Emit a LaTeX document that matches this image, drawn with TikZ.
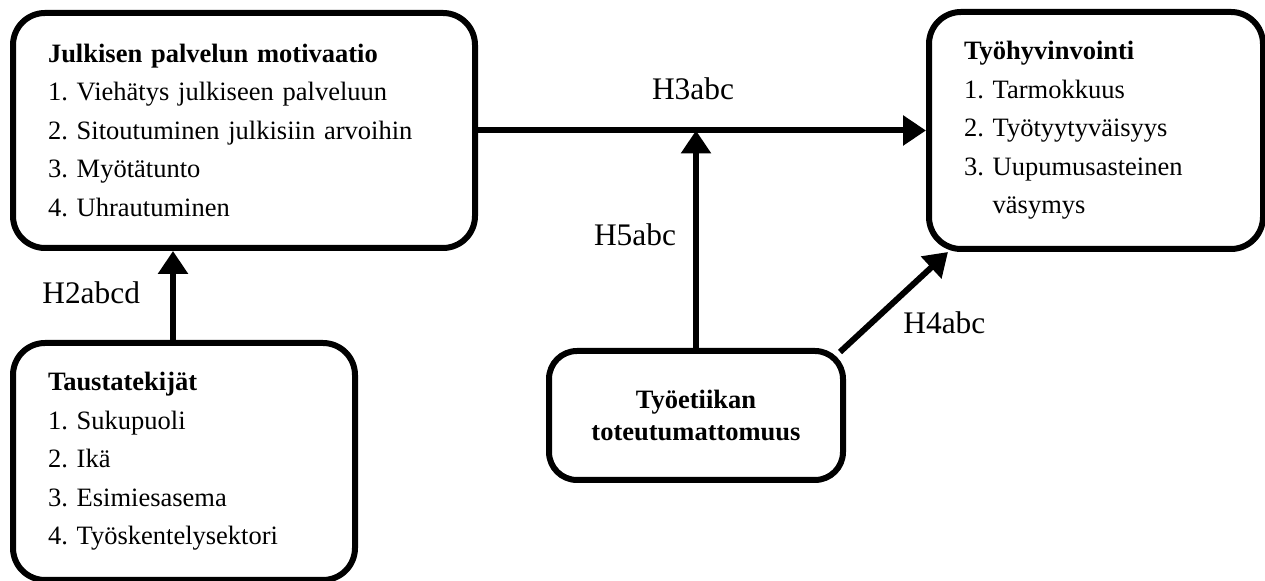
\documentclass[tikz,border=0pt]{standalone}
\usepackage{fontspec}
\setmainfont{Liberation Serif}
\frenchspacing
\usetikzlibrary{arrows.meta, positioning}
\tikzset{
  every picture/.style={line width=3pt},
  box/.style={draw, rounded corners=16pt, align=left, inner xsep=17.5pt, inner ysep=6pt, font=\fontsize{13.25pt}{19.25pt}\selectfont},
  arrow/.style={-{Triangle[length=11.5pt, width=14.5pt]}},
  hyp/.style={inner sep=0pt, font=\fontsize{15.7pt}{18pt}\selectfont},
}

\begin{document}
\begin{tikzpicture}[x=0.5pt, y=-0.5pt]
  \useasboundingbox (0,0) rectangle (1265,581);
  \node[box, text width=196pt, minimum width=231pt, minimum height=117.5pt, anchor=north west] (jpm) at (10,10) {\textbf{Julkisen palvelun motivaatio}\\ 1. Viehätys julkiseen palveluun\\ 2. Sitoutuminen julkisiin arvoihin\\ 3. Myötätunto\\ 4. Uhrautuminen};
  \node[box, text width=132pt, minimum width=167pt, minimum height=118.5pt, right=224pt of jpm] (thv) {\textbf{Työhyvinvointi}\\ 1. Tarmokkuus\\ 2. Työtyytyväisyys\\ 3. Uupumusasteinen\\\phantom{3. }väsymys};
  \node[box, text width=136pt, minimum width=171pt, minimum height=118.5pt, below=44.5pt of jpm.south west, anchor=north west] (tausta) {\textbf{Taustatekijät}\\ 1. Sukupuoli\\ 2. Ikä\\ 3. Esimiesasema\\ 4. Työskentelysektori};
  \node[box, rounded corners=14pt, align=center, font=\fontsize{13.25pt}{16pt}\selectfont\bfseries, minimum width=147pt, minimum height=64.5pt, right=94pt of tausta.north east, anchor=north west, yshift=-4pt] (etiikka) {Työetiikan\\toteutumattomuus};
  \draw[arrow] (jpm) -- node[hyp, pos=0.48, above=14pt] {H3abc} (thv);
  \draw[arrow] (etiikka) -- node[hyp, pos=0.52, left=8.5pt] {H5abc} (etiikka |- jpm.east);
  \draw[arrow] ([xshift=-5.5pt]tausta.north) -- node[hyp, pos=0.53, left=15pt] {H2abcd} ([xshift=-5.5pt]tausta.north |- jpm.south);
  \draw[arrow] ([xshift=-3pt, yshift=-2pt]etiikka.north east) -- node[hyp, pos=0.3, anchor=base west, xshift=14pt, yshift=-6pt] {H4abc} ([xshift=11pt]thv.south west);
\end{tikzpicture}
\end{document}
